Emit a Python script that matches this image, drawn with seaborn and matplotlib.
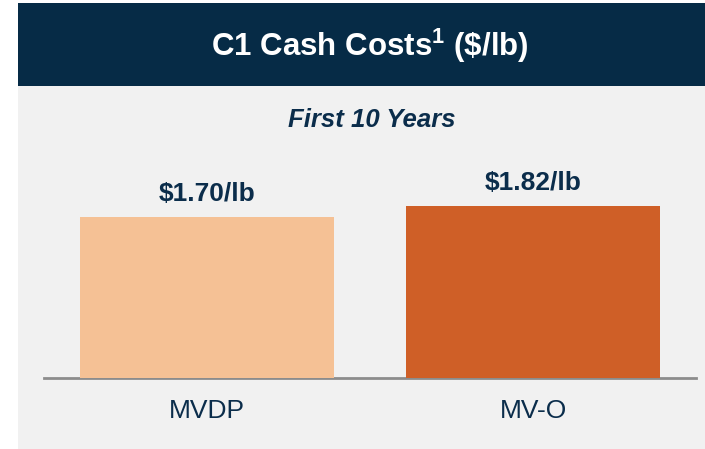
import matplotlib
matplotlib.use('Agg')
import matplotlib.pyplot as plt
import seaborn as sns
import pandas as pd
from matplotlib.patches import Rectangle

# chart data
projects = ['MVDP', 'MV-O']
c1_costs = [1.70, 1.82]
value_labels = ['$1.70/lb', '$1.82/lb']
bar_colors = ['#F5C195', '#CF5F27']

title_text = r'C1 Cash Costs$^{\mathbf{1}}$ (\$/lb)'
subtitle_text = 'First 10 Years'

NAVY = '#062B46'
TEXT_NAVY = '#0B2D4B'
PANEL = '#F1F1F1'

sns.set_style('white')
plt.rcParams['font.family'] = ['Liberation Sans', 'DejaVu Sans']
plt.rcParams['mathtext.fontset'] = 'custom'
plt.rcParams['mathtext.rm'] = 'Liberation Sans:bold'
plt.rcParams['mathtext.bf'] = 'Liberation Sans:bold'

W, H = 705, 449
fig = plt.figure(figsize=(W / 100, H / 100), dpi=100)
fig.patch.set_facecolor('white')

# grey panel + navy header band (behind the axes)
fig.patches.append(Rectangle((18 / W, 0), 1 - 18 / W, 1 - 86 / H,
                             transform=fig.transFigure, facecolor=PANEL,
                             edgecolor='none', zorder=-10))
fig.patches.append(Rectangle((18 / W, 1 - 86 / H), 1 - 18 / W, 83 / H,
                             transform=fig.transFigure, facecolor=NAVY,
                             edgecolor='none', zorder=-10))

fig.text(370 / W, 1 - 56 / H, title_text, color='white', fontsize=22.5,
         fontweight='bold', ha='center', va='baseline')
fig.text(372 / W, 1 - 127 / H, subtitle_text, color=TEXT_NAVY, fontsize=18.5,
         fontweight='bold', fontstyle='italic', ha='center', va='baseline')

# axes: x from 44px to 696px, baseline at y=378px, 94.6 px per unit
ymax = 2.4
ax_h = ymax * 94.6
ax = fig.add_axes([44 / W, (H - 378) / H, 652 / W, ax_h / H])
ax.patch.set_alpha(0)

df = pd.DataFrame({'project': projects, 'cost': c1_costs})
sns.barplot(data=df, x='project', y='cost', hue='project',
            palette=bar_colors, width=0.782, saturation=1,
            linewidth=0, edgecolor='none', legend=False, ax=ax)

ax.set_xlim(-0.5, 1.5)
ax.set_ylim(0, ymax)

for i, (v, lab) in enumerate(zip(c1_costs, value_labels)):
    ax.annotate(lab, (i, v), xytext=(0, 11.5), textcoords='offset points',
                ha='center', va='baseline', fontsize=19, fontweight='bold',
                color=TEXT_NAVY)

for side in ['top', 'right', 'left']:
    ax.spines[side].set_visible(False)
ax.spines['bottom'].set_color('#8C8C8C')
ax.spines['bottom'].set_linewidth(2)
ax.spines['bottom'].set_zorder(0)

ax.set_yticks([])
ax.set_xlabel('')
ax.set_ylabel('')
ax.tick_params(axis='x', length=0, pad=15, labelsize=19, labelcolor=TEXT_NAVY)

fig.savefig('out.png', dpi=100)
